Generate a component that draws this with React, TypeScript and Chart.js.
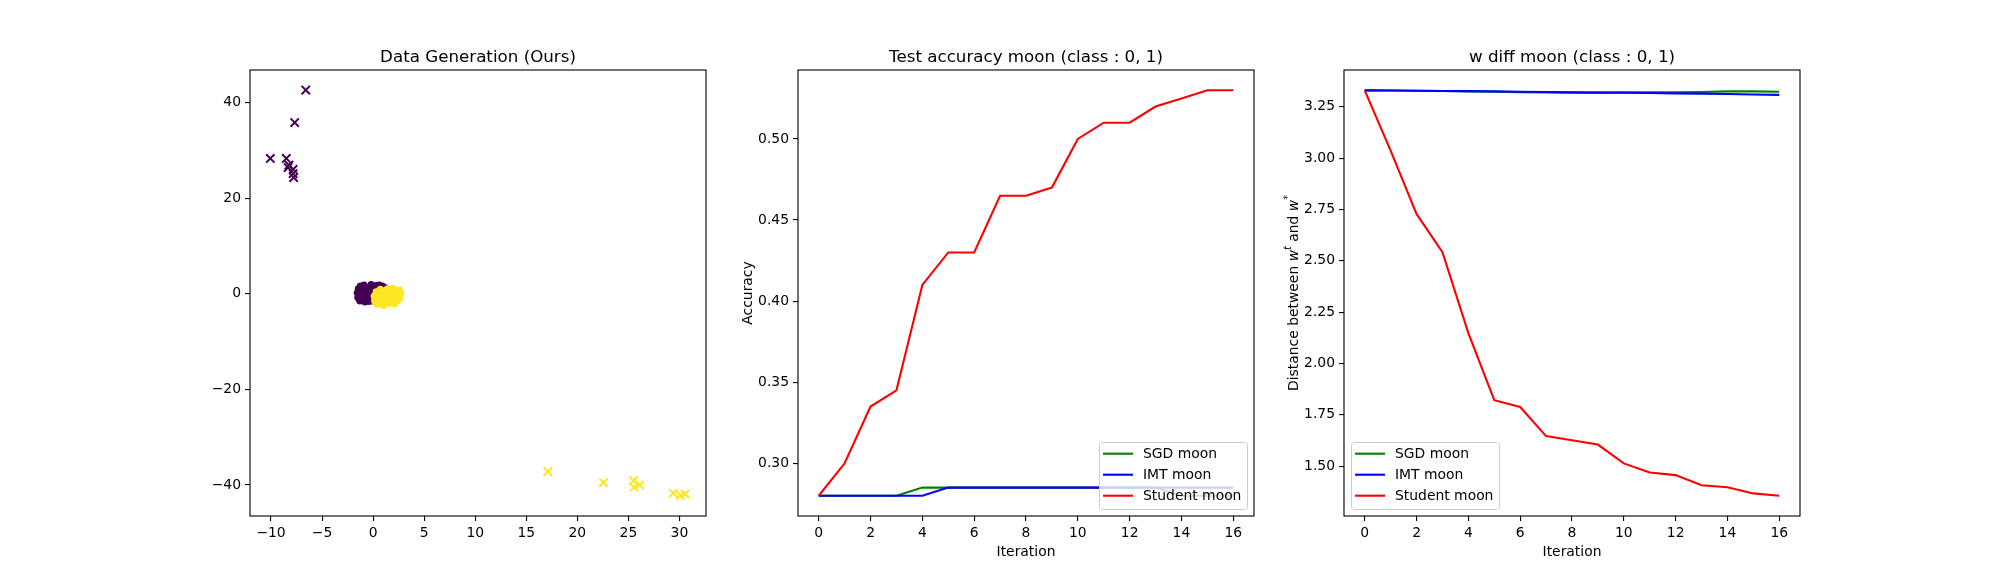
import { useEffect, useRef } from 'react'
import { Chart, registerables } from 'chart.js'

Chart.register(...registerables)

const FONT = "'DejaVu Sans', sans-serif"
Chart.defaults.font.family = FONT

// ---- data: left panel (generated moons + teaching points)
const scatterXTicks = [-10, -5, 0, 5, 10, 15, 20, 25, 30]
const scatterYTicks = [-40, -20, 0, 20, 40]

const purpleMoon = [
  [-1.55, 0.2], [-1.5, -0.8], [-1.45, 1.0], [-1.3, -1.5], [-1.25, 1.6], [-1.2, 0.0],
  [-1.1, 0.5], [-1.0, -1.0], [-1.0, 0.9], [-0.9, 1.8], [-0.8, -1.7], [-0.7, 0.1],
  [-0.6, -0.9], [-0.5, 1.2], [-0.4, -1.6], [-0.35, -0.2], [-0.3, 0.5], [-0.2, 1.9],
  [-0.1, -0.6], [0.0, -1.5], [0.05, 1.0], [0.2, 0.3], [0.3, 1.7], [0.45, 0.9],
  [0.6, 1.8], [0.6, 0.5], [0.75, 1.1], [0.9, 1.6], [1.05, 0.9], [1.15, 1.3],
]
const yellowMoon = [
  [0.1, -0.5], [0.15, -1.5], [0.3, 0.4], [0.4, -2.2], [0.5, -1.0], [0.55, 0.2],
  [0.7, 0.9], [0.8, -0.2], [0.9, -1.8], [1.0, -2.4], [1.1, 0.6], [1.2, -1.3],
  [1.3, 0.0], [1.4, 1.0], [1.5, -0.4], [1.6, -2.0], [1.7, 0.3], [1.85, -1.2],
  [1.95, 1.1], [2.0, -0.6], [2.1, -2.1], [2.25, 0.5], [2.35, -1.5], [2.45, -0.3],
  [2.55, 0.8], [2.6, -1.0], [2.7, 0.1],
]
const purpleTeach = [
  [-6.6, 42.6], [-7.68, 35.8], [-10.07, 28.3], [-8.5, 28.3], [-8.24, 26.9],
  [-8.33, 26.4], [-7.84, 26.0], [-7.84, 25.1], [-7.78, 24.3],
]
const yellowTeach = [
  [17.1, -37.2], [22.55, -39.5], [25.5, -39.1], [25.55, -40.5], [26.1, -40.0],
  [29.4, -41.7], [30.1, -42.2], [30.55, -41.9],
]

// ---- data: middle + right panels
const iterations = [0, 1, 2, 3, 4, 5, 6, 7, 8, 9, 10, 11, 12, 13, 14, 15, 16]
const iterTicks = [0, 2, 4, 6, 8, 10, 12, 14, 16]

const accSgd = [0.28, 0.28, 0.28, 0.28, 0.285, 0.285, 0.285, 0.285, 0.285, 0.285, 0.285, 0.285, 0.285, 0.285, 0.28, 0.28, 0.28]
const accImt = [0.28, 0.28, 0.28, 0.28, 0.28, 0.285, 0.285, 0.285, 0.285, 0.285, 0.285, 0.285, 0.285, 0.285, 0.285, 0.285, 0.285]
const accStudent = [0.28, 0.3, 0.335, 0.345, 0.41, 0.43, 0.43, 0.465, 0.465, 0.47, 0.5, 0.51, 0.51, 0.52, 0.525, 0.53, 0.53]
const accTicks = [0.3, 0.35, 0.4, 0.45, 0.5]

const diffSgd = [3.33, 3.329, 3.328, 3.327, 3.325, 3.323, 3.321, 3.32, 3.319, 3.319, 3.32, 3.32, 3.32, 3.322, 3.325, 3.325, 3.323]
const diffImt = [3.33, 3.329, 3.328, 3.327, 3.326, 3.325, 3.323, 3.322, 3.32, 3.319, 3.318, 3.317, 3.315, 3.314, 3.312, 3.31, 3.308]
const diffStudent = [3.33, 3.036, 2.728, 2.542, 2.148, 1.821, 1.788, 1.646, 1.626, 1.605, 1.513, 1.469, 1.456, 1.407, 1.397, 1.367, 1.356]
const diffTicks = [1.5, 1.75, 2.0, 2.25, 2.5, 2.75, 3.0, 3.25]

const seriesNames = ['SGD moon', 'IMT moon', 'Student moon']
const seriesColors = ['#008000', '#0000ff', '#ff0000']

// ---- layout (matplotlib subplot boxes)
const AXIS_W = 110
const RIGHT_PAD = 12
const PLOT_W = 456
const TOP = 70
const X_AXIS_H = 64
const FS = 13.9

type Part = { text: string; italic?: boolean; sup?: boolean }
type LegendCfg = { side: 'left' | 'right' }

function framePlugin(title: string, yLabel: Part[] | null, xLabel: string | null, legend: LegendCfg | null) {
  return {
    id: 'frame',
    afterDraw(chart: any) {
      const { ctx, chartArea: a } = chart
      ctx.save()
      ctx.strokeStyle = '#000'
      ctx.lineWidth = 1.1
      ctx.strokeRect(a.left, a.top, a.right - a.left, a.bottom - a.top)

      const cx = (a.left + a.right) / 2
      ctx.fillStyle = '#000'
      ctx.textAlign = 'center'
      ctx.textBaseline = 'alphabetic'
      ctx.font = `16.7px ${FONT}`
      ctx.fillText(title, cx, 61.7)

      if (xLabel) {
        ctx.font = `${FS}px ${FONT}`
        ctx.fillText(xLabel, cx, 556)
      }

      if (yLabel) {
        const fontOf = (p: Part) => `${p.italic ? 'italic ' : ''}${p.sup ? FS * 0.7 : FS}px ${FONT}`
        let total = 0
        for (const p of yLabel) { ctx.font = fontOf(p); total += ctx.measureText(p.text).width }
        ctx.translate(a.left - 50, (a.top + a.bottom) / 2)
        ctx.rotate(-Math.PI / 2)
        ctx.textAlign = 'left'
        ctx.textBaseline = 'middle'
        let x = -total / 2
        for (const p of yLabel) {
          ctx.font = fontOf(p)
          ctx.fillText(p.text, x, p.sup ? -6 : 0)
          x += ctx.measureText(p.text).width
        }
        ctx.setTransform(1, 0, 0, 1, 0, 0)
      }

      if (legend) {
        const w = 148, h = 67
        const bx = legend.side === 'right' ? a.right - 7 - w : a.left + 7
        const by = a.bottom - 7 - h
        ctx.beginPath()
        ctx.roundRect(bx + 0.5, by + 0.5, w, h, 3)
        ctx.fillStyle = 'rgba(255,255,255,0.8)'
        ctx.fill()
        ctx.strokeStyle = '#cccccc'
        ctx.lineWidth = 1
        ctx.stroke()
        ctx.font = `${FS}px ${FONT}`
        ctx.textAlign = 'left'
        ctx.textBaseline = 'middle'
        seriesNames.forEach((name, i) => {
          const y = by + 11.7 + i * 21
          ctx.strokeStyle = seriesColors[i]
          ctx.lineWidth = 2.1
          ctx.beginPath()
          ctx.moveTo(bx + 4, y)
          ctx.lineTo(bx + 34, y)
          ctx.stroke()
          ctx.fillStyle = '#000'
          ctx.fillText(name, bx + 44, y + 1)
        })
      }
      ctx.restore()
    },
  }
}

const fmtMinus = (v: number, digits: number) => {
  const s = Math.abs(v).toFixed(digits)
  return v < 0 ? '\u2212' + s : s
}

function axis(min: number, max: number, ticks: number[], digits: number, isX: boolean) {
  return {
    type: 'linear',
    position: isX ? 'bottom' : 'left',
    min,
    max,
    afterBuildTicks: (s: any) => { s.ticks = ticks.map(v => ({ value: v })) },
    afterFit: (s: any) => { if (isX) s.height = X_AXIS_H; else s.width = AXIS_W },
    grid: { drawOnChartArea: false, drawTicks: true, tickLength: 5, color: '#000', lineWidth: 1.1 },
    border: { display: false },
    ticks: {
      autoSkip: false,
      maxRotation: 0,
      padding: 4,
      color: '#000',
      font: { family: FONT, size: FS },
      callback: (v: any) => fmtMinus(Number(v), digits),
    },
  }
}

function baseOptions(scales: any) {
  return {
    responsive: false,
    maintainAspectRatio: false,
    animation: false,
    devicePixelRatio: 1,
    events: [],
    layout: { padding: { top: TOP, right: RIGHT_PAD, left: 0, bottom: 0 }, autoPadding: false },
    plugins: { legend: { display: false }, tooltip: { enabled: false }, title: { display: false } },
    scales,
  }
}

function Panel({ left, build }: { left: number; build: () => any }) {
  const ref = useRef<HTMLCanvasElement>(null)
  useEffect(() => {
    if (!ref.current) return
    const chart = new Chart(ref.current, build())
    return () => chart.destroy()
  }, [])
  const w = AXIS_W + PLOT_W + RIGHT_PAD
  return (
    <canvas
      ref={ref}
      width={w}
      height={580}
      style={{ position: 'absolute', left: left - AXIS_W, top: 0, width: w, height: 580 }}
    />
  )
}

const toXY = (pts: number[][]) => pts.map(([x, y]) => ({ x, y }))

function scatterConfig() {
  return {
    type: 'scatter',
    data: {
      datasets: [
        { data: toXY(purpleMoon), pointStyle: 'circle', pointRadius: 3.6, backgroundColor: '#440154', borderWidth: 0, order: 4 },
        { data: toXY(yellowMoon), pointStyle: 'circle', pointRadius: 3.6, backgroundColor: '#fde725', borderWidth: 0, order: 3 },
        { data: toXY(purpleTeach), pointStyle: 'crossRot', pointRadius: 5.9, borderColor: '#440154', borderWidth: 2, order: 2 },
        { data: toXY(yellowTeach), pointStyle: 'crossRot', pointRadius: 5.9, borderColor: '#fde725', borderWidth: 2, order: 1 },
      ],
    },
    options: baseOptions({
      x: axis(-12.06, 32.6, scatterXTicks, 0, true),
      y: axis(-46.5, 46.8, scatterYTicks, 0, false),
    }),
    plugins: [framePlugin('Data Generation (Ours)', null, null, null)],
  }
}

function lineConfig(series: number[][], yMin: number, yMax: number, yTicks: number[], title: string, yLabel: Part[], side: 'left' | 'right') {
  return {
    type: 'line',
    data: {
      datasets: series.map((vals, i) => ({
        label: seriesNames[i],
        data: iterations.map((it, k) => ({ x: it, y: vals[k] })),
        borderColor: seriesColors[i],
        borderWidth: 2.1,
        pointRadius: 0,
        tension: 0,
        fill: false,
        order: 3 - i,
      })),
    },
    options: baseOptions({
      x: axis(-0.8, 16.8, iterTicks, 0, true),
      y: axis(yMin, yMax, yTicks, 2, false),
    }),
    plugins: [framePlugin(title, yLabel, 'Iteration', { side })],
  }
}

export default function App() {
  return (
    <div style={{ position: 'fixed', left: 0, top: 0, width: 2000, height: 580, background: '#fff' }}>
      <Panel left={250} build={scatterConfig} />
      <Panel
        left={798}
        build={() => lineConfig([accSgd, accImt, accStudent], 0.2675, 0.5425, accTicks,
          'Test accuracy moon (class : 0, 1)', [{ text: 'Accuracy' }], 'right')}
      />
      <Panel
        left={1344}
        build={() => lineConfig([diffSgd, diffImt, diffStudent], 1.257, 3.429, diffTicks,
          'w diff moon (class : 0, 1)',
          [{ text: 'Distance between ' }, { text: 'w', italic: true }, { text: 't', italic: true, sup: true },
            { text: ' and ' }, { text: 'w', italic: true }, { text: '*', sup: true }],
          'left')}
      />
    </div>
  )
}
